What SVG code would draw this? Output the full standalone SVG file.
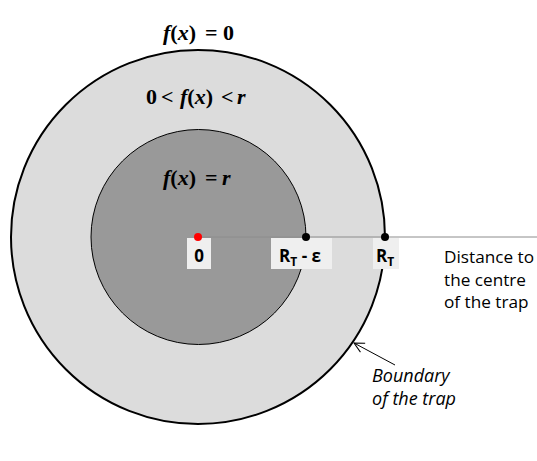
<svg xmlns="http://www.w3.org/2000/svg" width="537" height="461" viewBox="0 0 537 461">
<style>
.math{font-family:"Liberation Serif","DejaVu Serif",serif;font-size:22px;font-weight:bold;fill:#000}
.it{font-style:italic}
.lbl{font-family:"Open Sans","Liberation Sans",sans-serif;font-size:17px;font-weight:bold;fill:#000}
.txt{font-family:"Open Sans","Liberation Sans",sans-serif;font-size:18px;fill:#000}
.ax{font-size:17.2px}
.box{fill:#efefef}
</style>
<defs>
<marker id="arr" markerWidth="12" markerHeight="12" refX="11" refY="6" orient="auto" markerUnits="userSpaceOnUse">
<path d="M1,1 L11,6 L1,11" fill="none" stroke="#000" stroke-width="1"/>
</marker>
</defs>
<rect width="537" height="461" fill="#fff"/>
<g id="outer-region">
<circle cx="198" cy="237" r="187" fill="#dcdcdc" stroke="#000" stroke-width="2"/>
</g>
<g id="inner-region">
<circle cx="198.5" cy="237" r="107.5" fill="#999999" stroke="#000" stroke-width="1"/>
</g>
<g id="connectors">
<line x1="198" y1="237" x2="537" y2="237" stroke="#8c8c8c" stroke-width="1"/>
<line x1="395" y1="365" x2="354" y2="343" stroke="#000" stroke-width="1" marker-end="url(#arr)"/>
</g>
<g id="label-fx0">
<text class="math" y="40"><tspan x="163"><tspan class="it">f</tspan>(<tspan class="it">x</tspan>)</tspan><tspan x="205">=</tspan><tspan x="223">0</tspan></text>
</g>
<g id="label-between">
<text class="math" y="104"><tspan x="146">0</tspan><tspan x="161">&lt;</tspan><tspan x="180"><tspan class="it">f</tspan>(<tspan class="it">x</tspan>)</tspan><tspan x="221">&lt;</tspan><tspan x="237" class="it">r</tspan></text>
</g>
<g id="label-fxr">
<text class="math" y="185"><tspan x="163"><tspan class="it">f</tspan>(<tspan class="it">x</tspan>)</tspan><tspan x="205">=</tspan><tspan x="222" class="it">r</tspan></text>
</g>
<g id="point-0">
<rect class="box" x="187" y="238" width="24" height="31"/>
<circle cx="198" cy="237" r="4" fill="#ff0000"/>
<text class="lbl" x="199" y="262" text-anchor="middle">0</text>
</g>
<g id="point-rte">
<rect class="box" x="271" y="238" width="61" height="31"/>
<circle cx="306" cy="237" r="4" fill="#000"/>
<text class="lbl" x="300" y="262" text-anchor="middle">R<tspan font-size="12" dy="4">T</tspan><tspan dy="-4"> - ε</tspan></text>
</g>
<g id="point-rt">
<rect class="box" x="373" y="238" width="26" height="31"/>
<circle cx="385" cy="237" r="4" fill="#000"/>
<text class="lbl" x="385" y="262" text-anchor="middle">R<tspan font-size="12" dy="4">T</tspan></text>
</g>
<g id="axis-label">
<text class="txt ax" x="444" y="263">Distance to</text>
<text class="txt ax" x="444" y="286">the centre</text>
<text class="txt ax" x="444" y="308">of the trap</text>
</g>
<g id="boundary-label">
<text class="txt it" x="372" y="382">Boundary</text>
<text class="txt it" x="372" y="405">of the trap</text>
</g>
</svg>
